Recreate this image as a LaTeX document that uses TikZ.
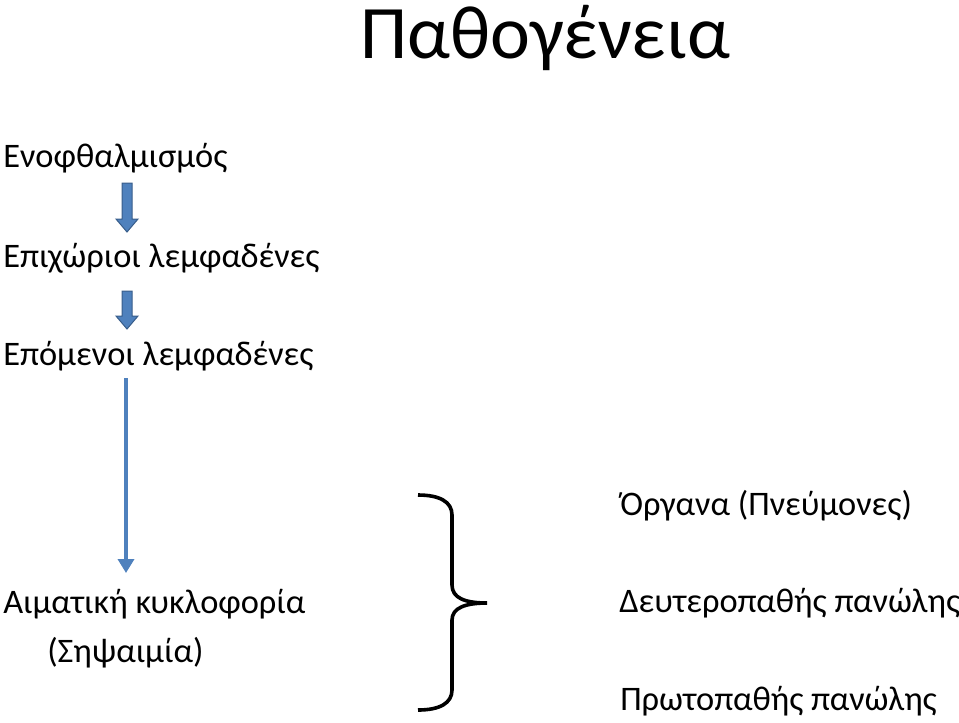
\documentclass[tikz,border=0pt]{standalone}
\usepackage{fontspec}
\setmainfont{Carlito}
\usetikzlibrary{arrows.meta}
\definecolor{accblue}{HTML}{4F81BD}
\definecolor{accdark}{HTML}{385D8A}
\begin{document}
\begin{tikzpicture}[x=0.75pt,y=-0.75pt,
  body/.style={anchor=base west,inner sep=0pt,font=\fontsize{25.8}{30}\selectfont},
  titletext/.style={anchor=base,inner sep=0pt,font=\fontsize{56.7}{64}\selectfont},
  blockarr/.style={fill=accblue,draw=accdark,line width=0.75pt,line join=miter},
  longarr/.style={draw=accblue,line width=3pt,-{Triangle[length=10.5pt,width=12pt]}},
  bracestyle/.style={draw=black,line width=2.7pt}]
\useasboundingbox (0,0) rectangle (959,722);
\node[titletext] (title) at (545,58) {Παθογένεια};
\node[body] (t1) at (3,167) {Ενοφθαλμισμός};
\node[body] (t2) at (3,267) {Επιχώριοι λεμφαδένες};
\node[body] (t3) at (3,365) {Επόμενοι λεμφαδένες};
\node[body] (t4) at (3,613) {Αιματική κυκλοφορία};
\node[body] (t5) at (47,662) {(Σηψαιμία)};
\node[body] (o1) at (620,515) {Όργανα (Πνεύμονες)};
\node[body] (o2) at (619,612) {Δευτεροπαθής πανώλης};
\node[body] (o3) at (620,710) {Πρωτοπαθής πανώλης};
% block arrows
\coordinate (a1) at (127,183);
\coordinate (a2) at (127,291);
\draw[blockarr] (a1) ++(-5,0) -- ++(10,0) -- ++(0,36) -- ++(6,0) -- ++(-11,13) -- ++(-11,-13) -- ++(6,0) -- cycle;
\draw[blockarr] (a2) ++(-5,0) -- ++(10,0) -- ++(0,25) -- ++(6,0) -- ++(-11,13) -- ++(-11,-13) -- ++(6,0) -- cycle;
% long arrow
\coordinate (l1) at (126,378);
\coordinate (l2) at (126,573);
\draw[longarr] (l1) -- (l2);
% brace
\coordinate (bt) at (418,495);
\coordinate (bm) at (487,603);
\coordinate (bb) at (418,710);
\draw[bracestyle] (bt) .. controls (440,495) and (452,502) .. (452,515)
  -- (452,585) .. controls (452,598) and (465,603) .. (bm)
  .. controls (465,603) and (452,608) .. (452,620)
  -- (452,690) .. controls (452,703) and (440,710) .. (bb);
\end{tikzpicture}
\end{document}
